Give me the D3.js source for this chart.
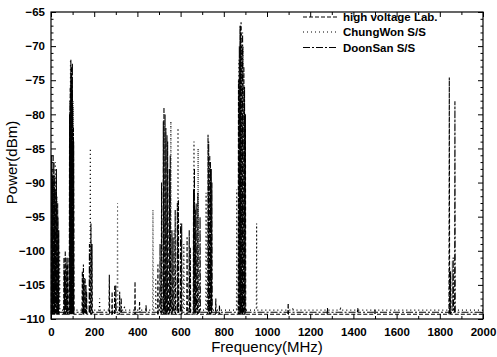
<!DOCTYPE html>
<html><head><meta charset="utf-8">
<script src="https://cdn.jsdelivr.net/npm/d3@7"></script>
<style>
html,body{margin:0;padding:0;background:#fff;}
text{font-family:"Liberation Sans",Arial,sans-serif;}
</style></head>
<body>
<svg id="c" width="497" height="357"></svg>
<script>
// ---- data ----
const seriesNames = ["high voltage Lab.", "ChungWon S/S", "DoonSan S/S"];
const xTicks = [0,200,400,600,800,1000,1200,1400,1600,1800,2000];
const yTicks = [-110,-105,-100,-95,-90,-85,-80,-75,-70,-65];
const noiseFloor = [-109.3, -108.7, -109.0];
// peaks: [frequency MHz, power dBm]
const hvLab = [
  [3,-86],[8,-89],[14,-87],[19,-91],[25,-88],[31,-93],[36,-97],
  [60,-101],[66,-100],[73,-102],[78,-101],
  [86,-80],[89,-76],[92,-72],[95,-73],[98,-76],[101,-79],[105,-84],
  [145,-103],[150,-102],[158,-104],[165,-106],[185,-96],[190,-99],
  [270,-103.5],[283,-106],[295,-105],[318,-106],[389,-104.5],
  [495,-102],[512,-90],[523,-79],[532,-82],[540,-84],[548,-88],[560,-97],
  [575,-94],[590,-92.5],[605,-96],[630,-98],[645,-99.5],[660,-91],[668,-94],
  [680,-91.5],[727,-83],[735,-86],[742,-88],[763,-107],[780,-108],
  [868,-75],[875,-67],[880,-66.5],[885,-70],[893,-73],[900,-80],
  [1098,-107.7],[1280,-108.4],[1500,-108.5],[1844,-74.6],[1850,-103]
];
const chungWon = [
  [5,-88],[12,-90],[20,-87],[28,-92],[40,-100],
  [90,-72],[96,-75],[102,-78],
  [155,-104],[182,-85],[225,-107],[308,-93],[340,-108],[472,-94],[485,-104],
  [555,-81],[570,-97],[588,-82],[615,-99],[662,-84],[681,-85],[718,-91.5],
  [860,-91],[870,-72],[880,-68],[890,-70],[952,-96],
  [1120,-108.3],[1340,-108.2],[1845,-102],[1858,-101.5]
];
const doonSan = [
  [5,-90],[10,-86],[17,-89],[24,-91],[32,-95],
  [63,-103],[70,-101],
  [88,-78],[93,-74],[99,-72.5],[104,-82],
  [152,-104],[162,-105],[178,-99],[300,-105],[325,-107],[410,-107.5],[440,-108],
  [505,-99],[520,-81],[528,-80],[537,-83],[552,-86],[565,-98],[585,-93],
  [600,-96],[640,-97],[664,-88],[672,-93],[690,-95],[730,-84],[738,-87],[745,-90],
  [872,-70],[878,-67],[887,-68],[896,-76],
  [1420,-108.4],[1862,-101],[1870,-78.1]
];
const seriesData = [hvLab, chungWon, doonSan];
const dashes = ["4,2", "1,3", "7,2,2,2"];

// ---- layout ----
const svg = d3.select("#c");
const L = 51, R = 483, T = 12, B = 319;
const x = d3.scaleLinear().domain([0,2000]).range([L,R]);
const y = d3.scaleLinear().domain([-110,-65]).range([B,T]);

// series traces
const line = d3.line().x(d => x(d[0])).y(d => y(d[1]));
seriesData.forEach((pk, i) => {
  const fl = noiseFloor[i];
  const pts = [[0, fl]];
  pk.slice().sort((a,b)=>a[0]-b[0]).forEach(p => {
    pts.push([p[0]-1.5, fl], [p[0], p[1]], [p[0]+1.5, fl]);
  });
  pts.push([2000, fl]);
  svg.append("path").attr("d", line(pts))
    .attr("fill","none").attr("stroke","#000").attr("stroke-width",1.1)
    .attr("stroke-dasharray", dashes[i]);
});

// frame
svg.append("rect").attr("x",L).attr("y",T).attr("width",R-L).attr("height",B-T)
  .attr("fill","none").attr("stroke","#000").attr("stroke-width",1.2);

// axes (ticks inward, mirrored)
const minorX = d3.range(100,2000,200);
const minorY = d3.range(-109,-65,1).filter(v=>v%5!==0);
const gx = svg.append("g").attr("transform",`translate(0,${B})`)
  .call(d3.axisBottom(x).tickValues(xTicks).tickSize(-5).tickPadding(9).tickFormat(d3.format("d")));
const gxm = svg.append("g").attr("transform",`translate(0,${B})`)
  .call(d3.axisBottom(x).tickValues(minorX).tickSize(-3).tickFormat(""));
const gt = svg.append("g").attr("transform",`translate(0,${T})`)
  .call(d3.axisTop(x).tickValues(xTicks).tickSize(-5).tickFormat(""));
const gtm = svg.append("g").attr("transform",`translate(0,${T})`)
  .call(d3.axisTop(x).tickValues(minorX).tickSize(-3).tickFormat(""));
const gy = svg.append("g").attr("transform",`translate(${L},0)`)
  .call(d3.axisLeft(y).tickValues(yTicks).tickSize(-5).tickPadding(6).tickFormat(d3.format("d")));
const gym = svg.append("g").attr("transform",`translate(${L},0)`)
  .call(d3.axisLeft(y).tickValues(minorY).tickSize(-2.5).tickFormat(""));
const gr = svg.append("g").attr("transform",`translate(${R},0)`)
  .call(d3.axisRight(y).tickValues(yTicks).tickSize(-5).tickFormat(""));
const grm = svg.append("g").attr("transform",`translate(${R},0)`)
  .call(d3.axisRight(y).tickValues(minorY).tickSize(-2.5).tickFormat(""));
[gx,gxm,gt,gtm,gy,gym,gr,grm].forEach(g => {
  g.select(".domain").remove();
  g.selectAll("line").attr("stroke","#000").attr("stroke-width",1);
  g.selectAll("text").attr("font-family","'Liberation Sans',Arial,sans-serif")
    .attr("font-size",11.5).attr("font-weight","bold").attr("fill","#000");
});

// axis titles
svg.append("text").attr("x",(L+R)/2).attr("y",352).attr("text-anchor","middle")
  .attr("font-size",15).text("Frequency(MHz)");
svg.append("text").attr("transform",`translate(17,${(T+B)/2-3}) rotate(-90)`)
  .attr("text-anchor","middle").attr("font-size",15).text("Power(dBm)");

// legend
const legY = [17, 32, 47.5];
seriesNames.forEach((n, i) => {
  svg.append("line").attr("x1",303).attr("x2",338).attr("y1",legY[i]).attr("y2",legY[i])
    .attr("stroke","#000").attr("stroke-width",1).attr("stroke-dasharray",dashes[i]);
  svg.append("text").attr("x",343).attr("y",legY[i]+4).attr("font-size",11.5)
    .attr("font-weight","bold").text(n);
});
</script>
</body></html>
